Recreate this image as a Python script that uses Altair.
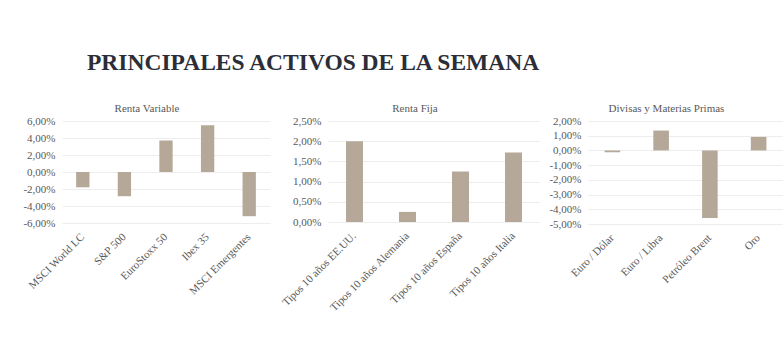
import altair as alt
import pandas as pd

TITLE = "PRINCIPALES ACTIVOS DE LA SEMANA"

rv_cats = ["MSCI World LC", "S&P 500", "EuroStoxx 50", "Ibex 35", "MSCI Emergentes"]
rv_vals = [-1.8, -2.85, 3.7, 5.5, -5.2]
rv_ticks = [-6, -4, -2, 0, 2, 4, 6]

rf_cats = ["Tipos 10 años EE.UU.", "Tipos 10 años Alemania", "Tipos 10 años España", "Tipos 10 años Italia"]
rf_vals = [2.0, 0.25, 1.25, 1.72]
rf_ticks = [0, 0.5, 1.0, 1.5, 2.0, 2.5]

dm_cats = ["Euro / Dólar", "Euro / Libra", "Petróleo Brent", "Oro"]
dm_vals = [-0.12, 1.35, -4.6, 0.92]
dm_ticks = [-5, -4, -3, -2, -1, 0, 1, 2]

FONT = "Liberation Serif"
GRAY = "#595959"
BAR = "#b5a898"
LABEL_EXPR = "(datum.value < 0 ? '-' : '') + replace(format(abs(datum.value), '.2f'), '.', ',') + '%'"


def panel(title, cats, vals, ticks, width, height, extent):
    df = pd.DataFrame({"cat": cats, "val": vals})
    return (
        alt.Chart(df)
        .mark_bar(color=BAR)
        .encode(
            x=alt.X(
                "cat:N",
                sort=cats,
                scale=alt.Scale(paddingInner=0.68, paddingOuter=0.34),
                axis=alt.Axis(
                    title=None,
                    labelAngle=-45,
                    labelAlign="right",
                    labelBaseline="middle",
                    labelPadding=12,
                    labelFont=FONT,
                    labelFontSize=11,
                    labelColor=GRAY,
                    labelLimit=200,
                    ticks=False,
                    domain=False,
                    grid=False,
                ),
            ),
            y=alt.Y(
                "val:Q",
                scale=alt.Scale(domain=[min(ticks), max(ticks)], nice=False, zero=False),
                axis=alt.Axis(
                    title=None,
                    values=ticks,
                    labelExpr=LABEL_EXPR,
                    labelFont=FONT,
                    labelFontSize=11,
                    labelColor=GRAY,
                    labelPadding=7,
                    ticks=False,
                    domain=False,
                    grid=True,
                    gridColor="#ededed",
                    gridWidth=1,
                    minExtent=extent,
                    maxExtent=extent,
                ),
            ),
        )
        .properties(
            width=width,
            height=height,
            title=alt.TitleParams(
                title, font=FONT, fontSize=11, fontWeight="normal", color=GRAY,
                offset=1, dx=-19
            ),
        )
    )


p1 = panel("Renta Variable", rv_cats, rv_vals, rv_ticks, 208, 102, 62)
p2 = panel("Renta Fija", rf_cats, rf_vals, rf_ticks, 212, 101, 58)
p3 = panel("Divisas y Materias Primas", dm_cats, dm_vals, dm_ticks, 195, 103, 48)

chart = (
    alt.hconcat(p1, p2, p3, spacing=0)
    .properties(
        title=alt.TitleParams(
            TITLE,
            font=FONT,
            fontSize=23.5,
            fontWeight="bold",
            color="#2b2e38",
            anchor="start",
            dx=87,
            offset=29,
        )
    )
    .configure(padding={"left": 0, "top": 50, "right": 0, "bottom": 0}, background="white")
    .configure_view(stroke=None)
)

chart.save("out.html", embed_options={"renderer": "svg", "actions": False})
